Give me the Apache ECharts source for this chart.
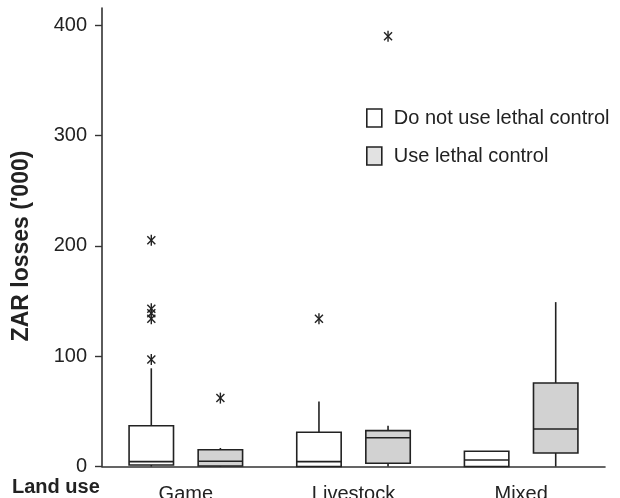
<!DOCTYPE html>
<html><head><meta charset="utf-8">
<script src="https://cdn.jsdelivr.net/npm/echarts@6/dist/echarts.min.js"></script>
<style>html,body{margin:0;padding:0;background:#fff}#c{width:620px;height:498px}</style>
</head><body><div id="c"></div>
<script>
const categories = ['Game', 'Livestock', 'Mixed'];
const seriesNames = ['Do not use lethal control', 'Use lethal control'];
// [min, Q1, median, Q3, max] per category
const noLethalBox = [[0, 1.4, 4.4, 37, 89], [0, 0, 4.4, 31, 59], [0, 0, 5.9, 13.8, 13.8]];
const lethalBox = [[0, 0.5, 4.7, 15.2, 16.8], [0, 2.9, 26.1, 32.5, 37], [0, 12.2, 34, 75.7, 149]];
// [category index, value]
const noLethalOutliers = [[0, 97], [0, 134], [0, 139], [0, 143], [0, 205], [1, 134]];
const lethalOutliers = [[0, 62], [1, 390]];
const yTicks = [0, 100, 200, 300, 400];

const FONT = '"Liberation Sans", Arial, Helvetica, sans-serif';
const INK = '#222';

function boxRender(side, fill) {
  return function (params, api) {
    const ci = api.value(0);
    const band = api.size([1, 0])[0];
    const base = api.coord([ci, 0]);
    const cx = base[0] + side * 0.206 * band;
    const hw = 0.1325 * band;
    const y = v => api.coord([ci, v])[1];
    const yMin = y(api.value(1)), yQ1 = y(api.value(2)), yMed = y(api.value(3)),
      yQ3 = y(api.value(4)), yMax = y(api.value(5));
    const ls = { stroke: INK, lineWidth: 1.6 };
    return {
      type: 'group', children: [
        { type: 'line', shape: { x1: cx, y1: yQ3, x2: cx, y2: yMax }, style: ls },
        { type: 'line', shape: { x1: cx, y1: yQ1, x2: cx, y2: yMin }, style: ls },
        { type: 'rect', shape: { x: cx - hw, y: yQ3, width: 2 * hw, height: yQ1 - yQ3 }, style: { fill: fill, stroke: INK, lineWidth: 1.6 } },
        { type: 'line', shape: { x1: cx - hw, y1: yMed, x2: cx + hw, y2: yMed }, style: ls }
      ]
    };
  };
}

function starRender(side) {
  return function (params, api) {
    const ci = api.value(0);
    const band = api.size([1, 0])[0];
    const p = api.coord([ci, api.value(1)]);
    const cx = p[0] + side * 0.206 * band, cy = p[1];
    const ls = { stroke: INK, lineWidth: 1.4 };
    return {
      type: 'group', children: [
        { type: 'line', shape: { x1: cx, y1: cy - 5.5, x2: cx, y2: cy + 5.5 }, style: ls },
        { type: 'line', shape: { x1: cx - 4, y1: cy - 4, x2: cx + 4, y2: cy + 4 }, style: ls },
        { type: 'line', shape: { x1: cx - 4, y1: cy + 4, x2: cx + 4, y2: cy - 4 }, style: ls }
      ]
    };
  };
}

const chart = echarts.init(document.getElementById('c'), null, { renderer: 'canvas' });
chart.setOption({
  animation: false,
  backgroundColor: '#fff',
  textStyle: { fontFamily: FONT },
  grid: { left: 102, right: 15, top: 8, bottom: 31.5, containLabel: false, outerBoundsMode: 'none' },
  legend: {
    orient: 'vertical', left: 366, top: 108, padding: 0, itemWidth: 15, itemHeight: 18, itemGap: 18,
    textStyle: { fontSize: 20, color: INK, fontFamily: FONT, padding: [0, 0, 0, 7] },
    data: [
      { name: seriesNames[0], icon: 'rect', itemStyle: { color: '#fff', borderColor: INK, borderWidth: 1.6 } },
      { name: seriesNames[1], icon: 'rect', itemStyle: { color: '#e2e2e2', borderColor: INK, borderWidth: 1.6 } }
    ]
  },
  xAxis: {
    type: 'category', data: categories,
    axisLine: { lineStyle: { color: '#333', width: 1.6 } },
    axisTick: { alignWithLabel: true, length: 7, lineStyle: { color: '#333', width: 1.4 } },
    axisLabel: { fontSize: 20, color: INK, fontFamily: FONT, margin: 18 },
    splitLine: { show: false }
  },
  yAxis: {
    type: 'value', min: 0, max: 415.6,
    axisLine: { show: true, lineStyle: { color: '#333', width: 1.6 } },
    axisTick: { show: true, length: 7, customValues: yTicks, lineStyle: { color: '#333', width: 1.4 } },
    axisLabel: { fontSize: 20, color: INK, fontFamily: FONT, margin: 15, customValues: yTicks },
    splitLine: { show: false }
  },
  graphic: [
    { type: 'text', x: 22, y: 246, rotation: Math.PI / 2,
      style: { text: "ZAR losses ('000)", font: 'bold 23px ' + FONT, fill: INK, align: 'center', verticalAlign: 'middle', textAlign: 'center', textVerticalAlign: 'middle' } },
    { type: 'text', left: 12, top: 477,
      style: { text: 'Land use', font: 'bold 20px ' + FONT, fill: INK } }
  ],
  series: [
    { name: seriesNames[0], type: 'custom', itemStyle: { color: '#fff' }, renderItem: boxRender(-1, '#fff'),
      encode: { x: 0, y: [1, 2, 3, 4, 5] }, data: noLethalBox.map((b, i) => [i].concat(b)) },
    { name: seriesNames[1], type: 'custom', itemStyle: { color: '#d2d2d2' }, renderItem: boxRender(1, '#d2d2d2'),
      encode: { x: 0, y: [1, 2, 3, 4, 5] }, data: lethalBox.map((b, i) => [i].concat(b)) },
    { name: seriesNames[0], type: 'custom', renderItem: starRender(-1), encode: { x: 0, y: 1 }, data: noLethalOutliers },
    { name: seriesNames[1], type: 'custom', renderItem: starRender(1), encode: { x: 0, y: 1 }, data: lethalOutliers }
  ]
});
</script></body></html>
